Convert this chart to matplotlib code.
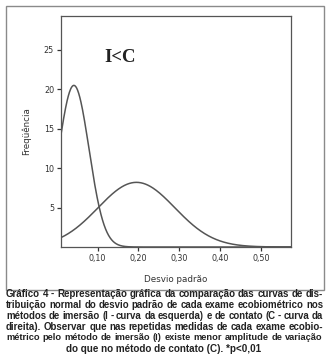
import numpy as np
import matplotlib.pyplot as plt
from matplotlib.patches import Rectangle

# curvas normais ajustadas (pico, média, desvio) - imersão (I) e contato (C)
curva_I = {'pico': 20.5, 'media': 0.042, 'dp': 0.037}
curva_C = {'pico': 8.2, 'media': 0.195, 'dp': 0.094}

x_ticks = [0.10, 0.20, 0.30, 0.40, 0.50]
x_labels = ['0,10', '0,20', '0,30', '0,40', '0,50']
y_ticks = [5, 10, 15, 20, 25]

legenda = [
    "Gráfico 4 - Representação gráfica da comparação das curvas de dis-",
    "tribuição normal do desvio padrão de cada exame ecobiométrico nos",
    "métodos de imersão (I - curva da esquerda) e de contato (C - curva da",
    "direita). Observar que nas repetidas medidas de cada exame ecobio-",
    "métrico pelo método de imersão (I) existe menor amplitude de variação",
]
ultima_linha = "do que no método de contato (C). *p<0,01"

W, H = 328, 358
fig = plt.figure(figsize=(W / 100, H / 100), dpi=100)

# moldura do gráfico
fig.patches.append(Rectangle((6 / W, 1 - 290 / H), 318 / W, 284 / H,
                             transform=fig.transFigure, fill=False,
                             edgecolor='#8a8a8a', linewidth=1.0))

ax = fig.add_axes([61 / W, 1 - 247 / H, 230 / W, 231 / H])

x = np.linspace(0.0105, 0.573, 600)
for c in (curva_I, curva_C):
    y = c['pico'] * np.exp(-(x - c['media']) ** 2 / (2 * c['dp'] ** 2))
    ax.plot(x, y, color='#555555', linewidth=1.1)

ax.set_xlim(0.0105, 0.573)
ax.set_ylim(0, 29.3)
ax.set_xticks(x_ticks)
ax.set_xticklabels(x_labels)
ax.set_yticks(y_ticks)
for s in ax.spines.values():
    s.set_color('#555555')
    s.set_linewidth(0.9)
ax.tick_params(labelsize=5.8, colors='#333333', length=3, width=0.9, pad=2)
ax.set_xlabel('Desvio padrão', fontsize=6.3, color='#333333', labelpad=9)
ax.set_ylabel('Freqüência', fontsize=6.3, color='#333333', labelpad=9)

ax.text(0.117, 24, 'I<C', fontsize=13.5, fontweight='bold',
        family='Liberation Serif', color='#222222', va='center')

# legenda justificada
fonte = dict(fontweight='bold', family='Liberation Sans', color='#222222')
fig.canvas.draw()
r = fig.canvas.get_renderer()
x0, x1 = 6, 323
y_lin = [294, 305, 316, 327, 338]


def larguras(palavras, tam):
    ws = []
    for p in palavras:
        t = fig.text(0, 0, p, fontsize=tam, **fonte)
        ws.append(t.get_window_extent(r).width)
        t.remove()
    return ws


for linha, yl in zip(legenda, y_lin):
    palavras = linha.split(' ')
    tam = 7.2
    while True:
        larg = larguras(palavras, tam)
        gap = (x1 - x0 - sum(larg)) / (len(palavras) - 1)
        if gap >= 2.4:
            break
        tam -= 0.1
    xp = x0
    for p, w in zip(palavras, larg):
        fig.text(xp / W, 1 - yl / H, p, ha='left', va='center',
                 fontsize=tam, **fonte)
        xp += w + gap
fig.text(0.5, 1 - 349 / H, ultima_linha, ha='center', va='center',
         fontsize=7.1, **fonte)

fig.savefig('out.png', dpi=100)
